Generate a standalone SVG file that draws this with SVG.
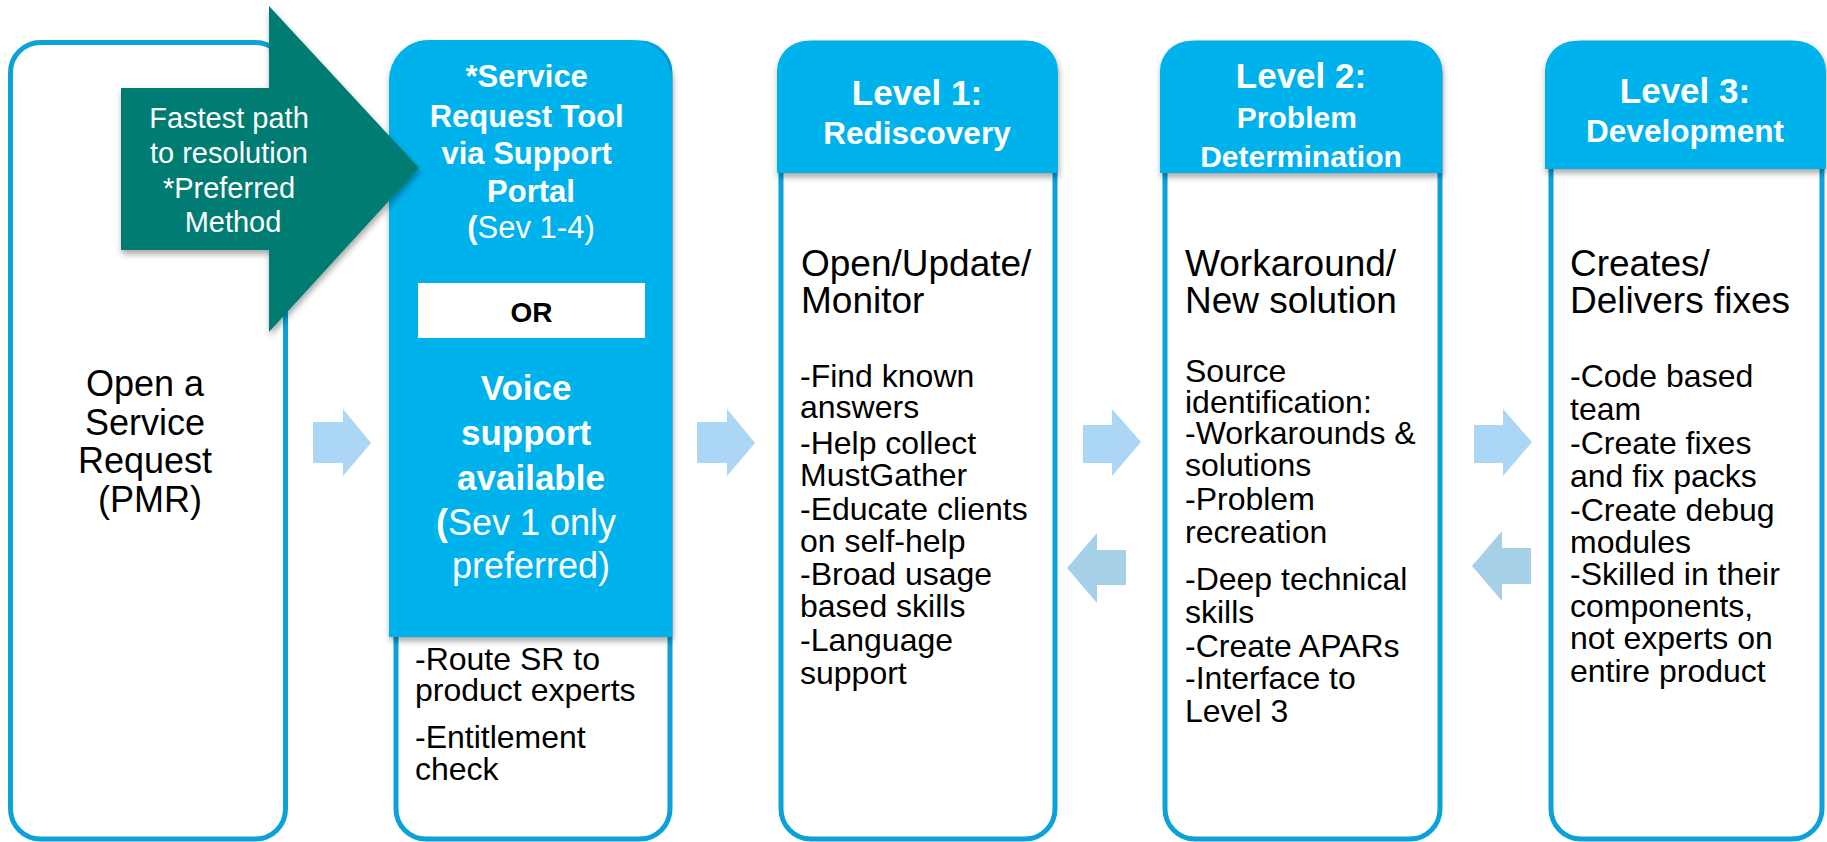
<svg xmlns="http://www.w3.org/2000/svg" width="1827" height="842" viewBox="0 0 1827 842">
<style>
  .col { fill: #ffffff; stroke: #0aa2d9; stroke-width: 5; }
  .hdr { fill: #00b2ec; }
  .t { font-family: "Liberation Sans", Arial, sans-serif; }
  .w { fill: #ffffff; }
  .k { fill: #000000; }
  .b { font-weight: bold; }
  .mid { text-anchor: middle; }
  .rarr { fill: #acd6f6; }
  .larr { fill: #a6d0e8; }
</style>
<defs>
  <filter id="sh" x="-10%" y="-10%" width="125%" height="130%">
    <feDropShadow dx="1" dy="4" stdDeviation="3" flood-color="#000000" flood-opacity="0.35"/>
  </filter>
</defs>
<rect width="1827" height="842" fill="#ffffff"/>

<g id="col1">
  <rect class="col" x="10.5" y="42.5" width="275" height="796.5" rx="30"/>
  <text class="t k mid" font-size="36">
    <tspan x="150" y="396">Open a</tspan>
    <tspan x="150" y="435">Service</tspan>
    <tspan x="150" y="473">Request</tspan>
    <tspan x="150" y="512">(PMR)</tspan>
  </text>
</g>

<g id="col2">
  <rect class="col" x="396" y="43" width="274" height="796" rx="30"/>
  <path class="hdr" filter="url(#sh)" d="M389,637 V81 A40,40 0 0 1 429,40 H632 A40,40 0 0 1 672,81 V637 Z"/>
  <text class="t w b mid" font-size="31">
    <tspan x="531" y="87">*Service</tspan>
    <tspan x="531" y="127">Request Tool</tspan>
    <tspan x="531" y="164">via Support</tspan>
    <tspan x="531" y="202">Portal</tspan>
  </text>
  <text class="t w mid" font-size="31" x="531" y="238"><tspan font-weight="bold">(</tspan>Sev 1-4)</text>
  <rect x="418" y="283" width="227" height="55" fill="#ffffff"/>
  <text class="t k b mid" font-size="28" x="531.5" y="322">OR</text>
  <text class="t w b mid" font-size="35">
    <tspan x="531" y="400">Voice</tspan>
    <tspan x="531" y="445">support</tspan>
    <tspan x="531" y="490">available</tspan>
  </text>
  <text class="t w mid" font-size="36">
    <tspan x="531" y="535"><tspan font-weight="bold">(</tspan>Sev 1 only</tspan>
    <tspan x="531" y="578">preferred)</tspan>
  </text>
  <text class="t k" font-size="32">
    <tspan x="415" y="670">-Route SR to</tspan>
    <tspan x="415" y="701">product experts</tspan>
    <tspan x="415" y="748">-Entitlement</tspan>
    <tspan x="415" y="780">check</tspan>
  </text>
</g>

<g id="col3">
  <rect class="col" x="781" y="43" width="274" height="796" rx="30"/>
  <path class="hdr" filter="url(#sh)" d="M777,173 V71 A30,30 0 0 1 807,41 H1028 A30,30 0 0 1 1058,71 V173 Z"/>
  <text class="t w b mid" font-size="35" x="917" y="105">Level 1:</text>
  <text class="t w b mid" font-size="31.5" x="917" y="144">Rediscovery</text>
  <text class="t k" font-size="37">
    <tspan x="801" y="276">Open/Update/</tspan>
    <tspan x="801" y="313">Monitor</tspan>
  </text>
  <text class="t k" font-size="32">
    <tspan x="800" y="387">-Find known</tspan>
    <tspan x="800" y="418">answers</tspan>
    <tspan x="800" y="454">-Help collect</tspan>
    <tspan x="800" y="486">MustGather</tspan>
    <tspan x="800" y="520">-Educate clients</tspan>
    <tspan x="800" y="552">on self-help</tspan>
    <tspan x="800" y="585">-Broad usage</tspan>
    <tspan x="800" y="617">based skills</tspan>
    <tspan x="800" y="651">-Language</tspan>
    <tspan x="800" y="684">support</tspan>
  </text>
</g>

<g id="col4">
  <rect class="col" x="1165" y="43" width="275" height="796" rx="30"/>
  <path class="hdr" filter="url(#sh)" d="M1160,173 V71 A30,30 0 0 1 1190,41 H1412 A30,30 0 0 1 1442,71 V173 Z"/>
  <text class="t w b mid" font-size="35" x="1301" y="88">Level 2:</text>
  <text class="t w b mid" font-size="30">
    <tspan x="1301" y="128">Problem</tspan>
    <tspan x="1301" y="167">Determination</tspan>
  </text>
  <text class="t k" font-size="37">
    <tspan x="1185" y="276">Workaround/</tspan>
    <tspan x="1185" y="313">New solution</tspan>
  </text>
  <text class="t k" font-size="32">
    <tspan x="1185" y="382">Source</tspan>
    <tspan x="1185" y="413">identification:</tspan>
    <tspan x="1185" y="444">-Workarounds &amp;</tspan>
    <tspan x="1185" y="476">solutions</tspan>
    <tspan x="1185" y="510">-Problem</tspan>
    <tspan x="1185" y="543">recreation</tspan>
    <tspan x="1185" y="590">-Deep technical</tspan>
    <tspan x="1185" y="623">skills</tspan>
    <tspan x="1185" y="657">-Create APARs</tspan>
    <tspan x="1185" y="689">-Interface to</tspan>
    <tspan x="1185" y="722">Level 3</tspan>
  </text>
</g>

<g id="col5">
  <rect class="col" x="1551" y="43" width="271" height="796" rx="30"/>
  <path class="hdr" filter="url(#sh)" d="M1545,169 V71 A30,30 0 0 1 1575,41 H1796 A30,30 0 0 1 1826,71 V169 Z"/>
  <text class="t w b mid" font-size="35" x="1685" y="103">Level 3:</text>
  <text class="t w b mid" font-size="31.5" x="1685" y="142">Development</text>
  <text class="t k" font-size="37">
    <tspan x="1570" y="276">Creates/</tspan>
    <tspan x="1570" y="313">Delivers fixes</tspan>
  </text>
  <text class="t k" font-size="32">
    <tspan x="1570" y="387">-Code based</tspan>
    <tspan x="1570" y="420">team</tspan>
    <tspan x="1570" y="454">-Create fixes</tspan>
    <tspan x="1570" y="487">and fix packs</tspan>
    <tspan x="1570" y="521">-Create debug</tspan>
    <tspan x="1570" y="553">modules</tspan>
    <tspan x="1570" y="585">-Skilled in their</tspan>
    <tspan x="1570" y="617">components,</tspan>
    <tspan x="1570" y="649">not experts on</tspan>
    <tspan x="1570" y="682">entire product</tspan>
  </text>
</g>

<g id="callout">
  <polygon fill="#007b73" filter="url(#sh)" points="121,88 269,88 269,6 419,168 269,332 269,250 121,250"/>
  <text class="t w mid" font-size="29">
    <tspan x="233" y="128">Fastest path</tspan>
    <tspan x="233" y="163">to resolution</tspan>
    <tspan x="233" y="198">*Preferred</tspan>
    <tspan x="233" y="232">Method</tspan>
  </text>
</g>

<g id="connectors">
  <polygon class="rarr" points="313,422 343,422 343,409 371,443 343,476 343,463 313,463"/>
  <polygon class="rarr" points="697,422 727,422 727,409 755,443 727,476 727,463 697,463"/>
  <polygon class="rarr" points="1083,425 1112,425 1112,409 1141,442 1112,476 1112,463 1083,463"/>
  <polygon class="larr" points="1126,550 1097,550 1097,533 1067,568 1097,603 1097,585 1126,585"/>
  <polygon class="rarr" points="1474,425 1503,425 1503,409 1532,442 1503,476 1503,463 1474,463"/>
  <polygon class="larr" points="1531,548 1502,548 1502,531 1472,566 1502,601 1502,584 1531,584"/>
</g>
</svg>
